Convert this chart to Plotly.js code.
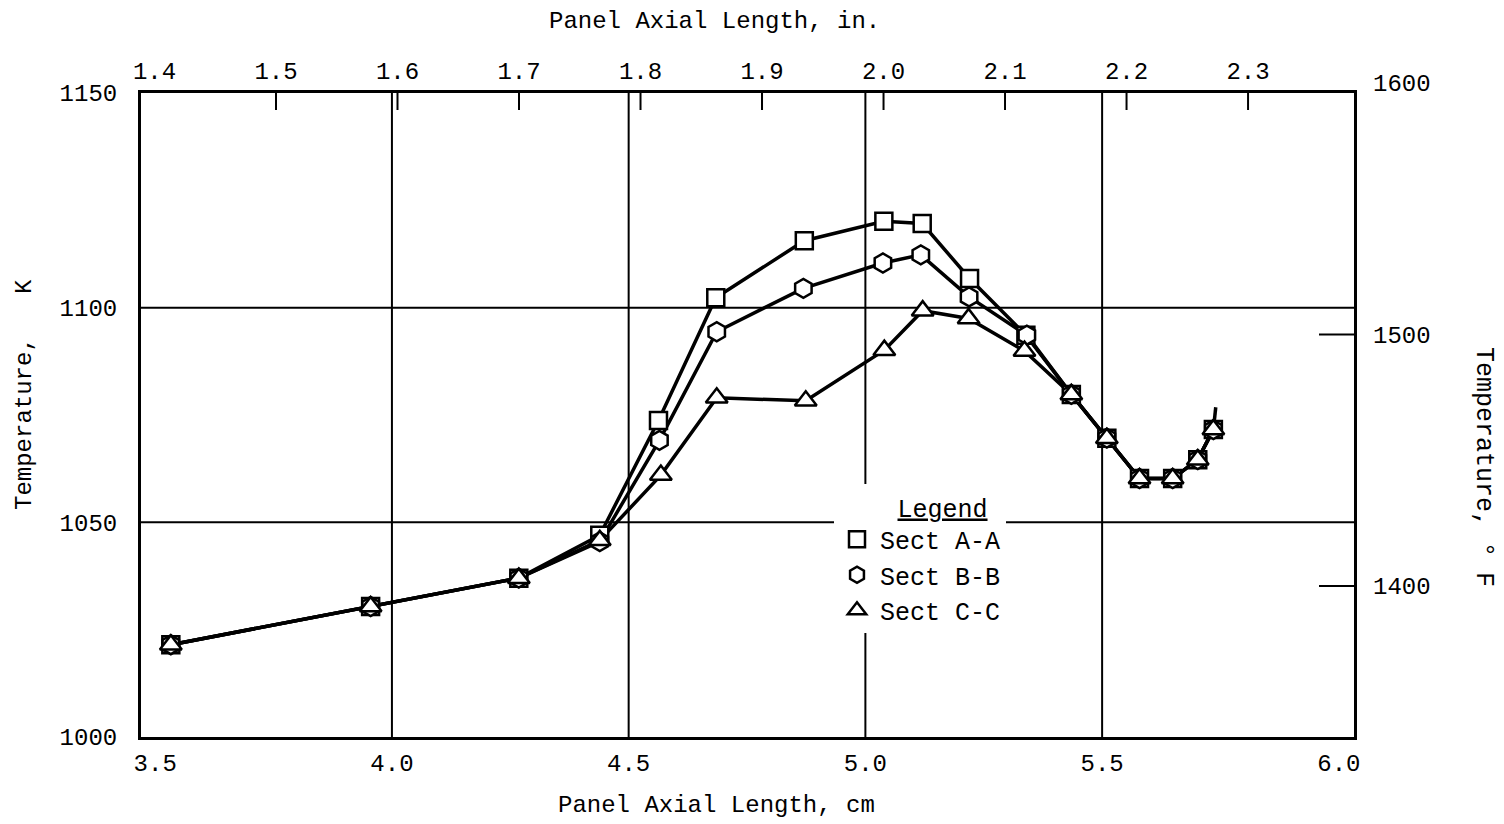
<!DOCTYPE html>
<html>
<head>
<meta charset="utf-8">
<script src="https://cdn.plot.ly/plotly-3.0.1.min.js"></script>
<style>html,body{margin:0;padding:0;background:#fff;}#chart{width:1504px;height:824px;}</style>
</head>
<body>
<div id="chart"></div>
<script>
// ---- Data ----
const seriesNames = ['Sect A-A', 'Sect B-B', 'Sect C-C'];

const xA = [3.533, 3.955, 4.268, 4.439, 4.563, 4.684, 4.871, 5.039, 5.120, 5.220, 5.339, 5.435, 5.510, 5.579, 5.649, 5.702, 5.735];
const yA = [1021.5, 1030.4, 1037.0, 1047.0, 1073.7, 1102.3, 1115.6, 1120.1, 1119.6, 1106.8, 1093.6, 1079.8, 1069.6, 1060.2, 1060.2, 1064.6, 1071.6];

const xB = [3.533, 3.955, 4.268, 4.439, 4.565, 4.686, 4.869, 5.037, 5.117, 5.219, 5.341, 5.435, 5.510, 5.579, 5.649, 5.702, 5.735];
const yB = [1021.5, 1030.4, 1037.0, 1045.5, 1069.1, 1094.4, 1104.5, 1110.4, 1112.3, 1102.5, 1093.6, 1079.8, 1069.6, 1060.2, 1060.2, 1064.6, 1071.6];

const xC = [3.533, 3.955, 4.268, 4.439, 4.568, 4.686, 4.874, 5.040, 5.121, 5.218, 5.336, 5.435, 5.510, 5.579, 5.649, 5.702, 5.735];
const yC = [1021.5, 1030.4, 1037.0, 1045.8, 1061.0, 1079.0, 1078.3, 1090.1, 1099.3, 1097.5, 1089.9, 1079.8, 1069.6, 1060.2, 1060.2, 1064.6, 1071.6];

// pen stroke continuing past the last plotted point
const xTail = [5.735, 5.740];
const yTail = [1071.6, 1076.8];

// axis ticks
const cmTicks = [3.5, 4.0, 4.5, 5.0, 5.5, 6.0];
const cmTickText = ['3.5', '4.0', '4.5', '5.0', '5.5', '6.0'];
const cmGrid = [4.0, 4.5, 5.0, 5.5];
const inTicks = [1.4, 1.5, 1.6, 1.7, 1.8, 1.9, 2.0, 2.1, 2.2, 2.3];
const inTickText = ['1.4', '1.5', '1.6', '1.7', '1.8', '1.9', '2.0', '2.1', '2.2', '2.3'];
const inTickMarks = [1.5, 1.6, 1.7, 1.8, 1.9, 2.0, 2.1, 2.2, 2.3];
const kTicks = [1000, 1050, 1100, 1150];
const kTickText = ['1000', '1050', '1100', '1150'];
const kGrid = [1050, 1100];
const fTicks = [1400, 1500, 1600];
const fTickText = ['1400', '1500', '1600'];
const fTickMarks = [1400, 1500];

// ---- Styling ----
const W = 1504, H = 824;
const M = {l: 141, r: 150, t: 83, b: 87};
const plotW = W - M.l - M.r, plotH = H - M.t - M.b;
const yTop = (737 - 93) / plotH;          // top of the K axis domain (frame)
const tickFont = {family: 'Liberation Mono', size: 24, color: '#000'};
const textFont = {family: 'Liberation Mono', size: 24, color: '#000'};
const legendFont = {family: 'Liberation Mono', size: 25, color: '#000'};
const xs = [xA, xB, xC], ys = [yA, yB, yC];
const symbols = ['square', 'hexagon', 'triangle-up'];
const msizes = [17, 19, 19];

const traces = [];
for (let i = 0; i < 3; i++) {
  traces.push({x: xs[i], y: ys[i], mode: 'lines', type: 'scatter', showlegend: false,
    line: {color: '#000', width: 3.5}, hoverinfo: 'skip'});
}
traces.push({x: xTail, y: yTail, mode: 'lines', type: 'scatter', showlegend: false,
  line: {color: '#000', width: 3.5}, hoverinfo: 'skip'});
for (let i = 0; i < 3; i++) {
  traces.push({x: xs[i], y: ys[i], mode: 'markers', type: 'scatter', name: seriesNames[i],
    marker: {symbol: symbols[i], size: msizes[i], color: '#fff', line: {color: '#000', width: 2.5}}});
}
// carriers for the secondary axes
traces.push({x: [], y: [], xaxis: 'x2', yaxis: 'y', type: 'scatter', mode: 'markers', showlegend: false});
traces.push({x: [], y: [], xaxis: 'x', yaxis: 'y2', type: 'scatter', mode: 'markers', showlegend: false});

const lineStyle = {color: '#000', width: 2};
const shapes = [];
cmGrid.forEach(v => shapes.push({type: 'line', xref: 'x', yref: 'paper', x0: v, x1: v, y0: 0, y1: yTop, line: lineStyle, layer: 'below'}));
kGrid.forEach(v => shapes.push({type: 'line', xref: 'paper', yref: 'y', x0: 0, x1: 1, y0: v, y1: v, line: lineStyle, layer: 'below'}));
inTickMarks.forEach(v => shapes.push({type: 'line', xref: 'x2', yref: 'paper', x0: v, x1: v, y0: yTop, y1: yTop - 17 / plotH, line: lineStyle, layer: 'below'}));
fTickMarks.forEach(v => shapes.push({type: 'line', xref: 'paper', yref: 'y2', x0: 1 - 35 / plotW, x1: 1, y0: v, y1: v, line: lineStyle, layer: 'below'}));

const px = x => (x - M.l) / plotW;
const py = y => (H - M.b - y) / plotH;

const layout = {
  width: W, height: H,
  margin: M,
  paper_bgcolor: '#fff', plot_bgcolor: 'rgba(0,0,0,0)',
  showlegend: true,
  xaxis: {range: [3.470, 6.032], tickmode: 'array', tickvals: cmTicks, ticktext: cmTickText,
    showgrid: false, zeroline: false, showline: true, mirror: true, linewidth: 3, linecolor: '#000',
    ticks: '', tickfont: tickFont, ticklabelstandoff: 2},
  xaxis2: {overlaying: 'x', side: 'top', anchor: 'y', range: [1.3889, 2.3872], tickmode: 'array',
    tickvals: inTicks, ticktext: inTickText, showgrid: false, zeroline: false, showline: false,
    ticks: '', tickfont: tickFont, ticklabelstandoff: 8},
  yaxis: {domain: [0, yTop], range: [1000, 1150], tickmode: 'array', tickvals: kTicks, ticktext: kTickText,
    showgrid: false, zeroline: false, showline: true, mirror: true, linewidth: 3, linecolor: '#000',
    ticks: '', tickfont: tickFont, ticklabelstandoff: 16},
  yaxis2: {anchor: 'x', side: 'right', domain: [0, 1], range: [1340, 1600], tickmode: 'array',
    tickvals: fTicks, ticktext: fTickText, showgrid: false, zeroline: false, showline: false,
    ticks: '', tickfont: tickFont, ticklabelstandoff: 18},
  shapes: shapes,
  legend: {x: px(834), y: py(484), xanchor: 'left', yanchor: 'top', bgcolor: '#fff', borderwidth: 0,
    font: legendFont, itemwidth: 36, tracegroupgap: 0,
    title: {text: '\u00A0\u00A0\u00A0<u>Legend</u>', side: 'top center', font: legendFont}},
  annotations: [
    {text: 'Panel Axial Length, in.', xref: 'paper', yref: 'paper', x: px(714), y: py(22), xanchor: 'center', yanchor: 'middle', showarrow: false, font: textFont},
    {text: 'Panel Axial Length, cm', xref: 'paper', yref: 'paper', x: px(716), y: py(805), xanchor: 'center', yanchor: 'middle', showarrow: false, font: textFont},
    {text: 'Temperature,\u00A0\u00A0\u00A0K', xref: 'paper', yref: 'paper', x: px(24), y: py(395), xanchor: 'center', yanchor: 'middle', textangle: -90, showarrow: false, font: textFont},
    {text: 'Temperature,\u00A0°\u00A0F', xref: 'paper', yref: 'paper', x: px(1484), y: py(467), xanchor: 'center', yanchor: 'middle', textangle: 90, showarrow: false, font: legendFont}
  ]
};

Plotly.newPlot('chart', traces, layout, {displayModeBar: false, staticPlot: true});
</script>
</body>
</html>
